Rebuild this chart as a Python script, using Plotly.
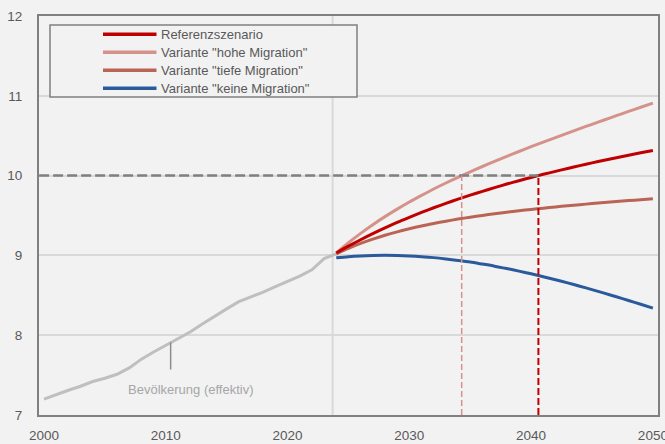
import plotly.graph_objects as go

# ---- data ----
hist_years = list(range(2000, 2025))
hist_values = [7.20, 7.26, 7.31, 7.36, 7.42, 7.46, 7.51, 7.59, 7.70, 7.79,
               7.87, 7.95, 8.04, 8.14, 8.24, 8.33, 8.42, 8.48, 8.54, 8.61,
               8.67, 8.74, 8.82, 8.96, 9.02]

proj_years = list(range(2024, 2051))
ref_values = [9.030, 9.116, 9.196, 9.272, 9.344, 9.413, 9.477, 9.539, 9.597, 9.652,
              9.705, 9.755, 9.803, 9.849, 9.894, 9.936, 9.977, 10.016, 10.053, 10.090,
              10.125, 10.159, 10.192, 10.224, 10.255, 10.286, 10.315]
high_values = [9.030, 9.158, 9.276, 9.385, 9.486, 9.580, 9.669, 9.752, 9.832, 9.907,
               9.979, 10.048, 10.114, 10.179, 10.241, 10.302, 10.362, 10.420, 10.477,
               10.533, 10.589, 10.643, 10.697, 10.751, 10.804, 10.856, 10.909]
low_values = [9.020, 9.089, 9.150, 9.204, 9.252, 9.295, 9.334, 9.369, 9.400, 9.429,
              9.455, 9.479, 9.501, 9.522, 9.541, 9.559, 9.576, 9.592, 9.607, 9.622,
              9.636, 9.649, 9.662, 9.674, 9.687, 9.698, 9.710]
none_values = [8.970, 8.984, 8.993, 8.999, 9.001, 8.999, 8.993, 8.984, 8.972, 8.956,
               8.937, 8.916, 8.891, 8.865, 8.835, 8.803, 8.769, 8.733, 8.695, 8.656,
               8.614, 8.571, 8.527, 8.482, 8.435, 8.388, 8.339]

series_names = ["Referenzszenario", 'Variante "hohe Migration"',
                'Variante "tiefe Migration"', 'Variante "keine Migration"']
series_colors = ["#c00000", "#d4928a", "#b96455", "#2a5a9b"]
series_values = [ref_values, high_values, low_values, none_values]

x_ticks = [2000, 2010, 2020, 2030, 2040, 2050]
y_ticks = [7, 8, 9, 10, 11, 12]

threshold = 10
start_proj = 2023.7
cross_high = 2034.3
cross_ref = 2040.6

hist_label = "Bevölkerung (effektiv)"

# ---- figure ----
BG = "#f2f2f2"
TXT = "#595959"
FONT = "Liberation Sans, Arial, sans-serif"

fig = go.Figure()

fig.add_trace(go.Scatter(x=hist_years, y=hist_values, mode="lines",
                         name=hist_label,
                         line=dict(color="#bfbfbf", width=3),
                         showlegend=False))

# draw in order: keine, tiefe, hohe, ref (ref on top)
for idx in [3, 2, 1, 0]:
    fig.add_trace(go.Scatter(x=proj_years, y=series_values[idx], mode="lines",
                             name=series_names[idx],
                             line=dict(color=series_colors[idx], width=3,
                                       shape="spline", smoothing=0.8),
                             showlegend=False))

shapes = []
# vertical separator at projection start
shapes.append(dict(type="line", xref="x", yref="y", x0=start_proj, x1=start_proj,
                   y0=7, y1=12, line=dict(color="#d9d9d9", width=2), layer="below"))
# horizontal threshold line
shapes.append(dict(type="line", xref="x", yref="y", x0=1999.6, x1=cross_ref,
                   y0=threshold, y1=threshold,
                   line=dict(color="#808080", width=2.5, dash="10px,4px")))
# vertical crossing lines
shapes.append(dict(type="line", xref="x", yref="y", x0=cross_high, x1=cross_high,
                   y0=7, y1=threshold,
                   line=dict(color="#d4928a", width=1.5, dash="6px,3px")))
shapes.append(dict(type="line", xref="x", yref="y", x0=cross_ref, x1=cross_ref,
                   y0=7, y1=threshold,
                   line=dict(color="#c00000", width=2, dash="7px,3px")))
# pointer for historical label
shapes.append(dict(type="line", xref="x", yref="y", x0=2010.4, x1=2010.4,
                   y0=7.57, y1=7.91, line=dict(color="#8c8c8c", width=1.5)))

# manual legend box
W, H = 665, 444
ml, mr, mt, mb = 39, 7, 16, 29
pw, ph = W - ml - mr, H - mt - mb


def px_x(px):
    return (px - ml) / pw


def px_y(py):
    return 1 - (py - mt) / ph


shapes.append(dict(type="rect", xref="paper", yref="paper",
                   x0=px_x(50), x1=px_x(357), y0=px_y(97), y1=px_y(25),
                   fillcolor=BG, line=dict(color="#808080", width=1.5), layer="above"))

annotations = []
for i, (nm, col) in enumerate(zip(series_names, series_colors)):
    yy = 34.3 + 18 * i
    shapes.append(dict(type="line", xref="paper", yref="paper",
                       x0=px_x(103), x1=px_x(156.5), y0=px_y(yy), y1=px_y(yy),
                       line=dict(color=col, width=3.5), layer="above"))
    annotations.append(dict(xref="paper", yref="paper", x=px_x(159), y=px_y(yy),
                            text=nm, showarrow=False, xanchor="left", yanchor="middle",
                            font=dict(family=FONT, size=13, color=TXT)))

annotations.append(dict(xref="x", yref="y", x=2012.1, y=7.32, text=hist_label,
                        showarrow=False, xanchor="center", yanchor="middle",
                        font=dict(family=FONT, size=13, color="#a6a6a6")))

fig.update_layout(
    width=W, height=H,
    margin=dict(l=ml, r=mr, t=mt, b=mb, pad=0, autoexpand=False),
    paper_bgcolor=BG, plot_bgcolor=BG,
    font=dict(family=FONT, size=13, color=TXT),
    showlegend=False,
    shapes=shapes,
    annotations=annotations,
    xaxis=dict(range=[1999.59, 2050.42], tickvals=x_ticks,
               ticktext=[str(t) for t in x_ticks], showgrid=False, zeroline=False,
               showline=True, linecolor="#808080", linewidth=2, mirror=True,
               ticks="", ticklabelstandoff=7, automargin=False,
               ticklabeloverflow="allow",
               tickfont=dict(size=13.5, color=TXT)),
    yaxis=dict(range=[7, 12], tickvals=y_ticks, showgrid=True, gridcolor="#d9d9d9",
               gridwidth=1.5, zeroline=False, showline=True, linecolor="#808080",
               linewidth=2, mirror=True, ticks="", ticklabelstandoff=12,
               automargin=False, tickfont=dict(size=13.5, color=TXT)),
)

fig.write_html(
    "out.html",
    config={"displayModeBar": False},
    post_script="document.body.style.margin='0';document.body.style.background='#f2f2f2';",
)
